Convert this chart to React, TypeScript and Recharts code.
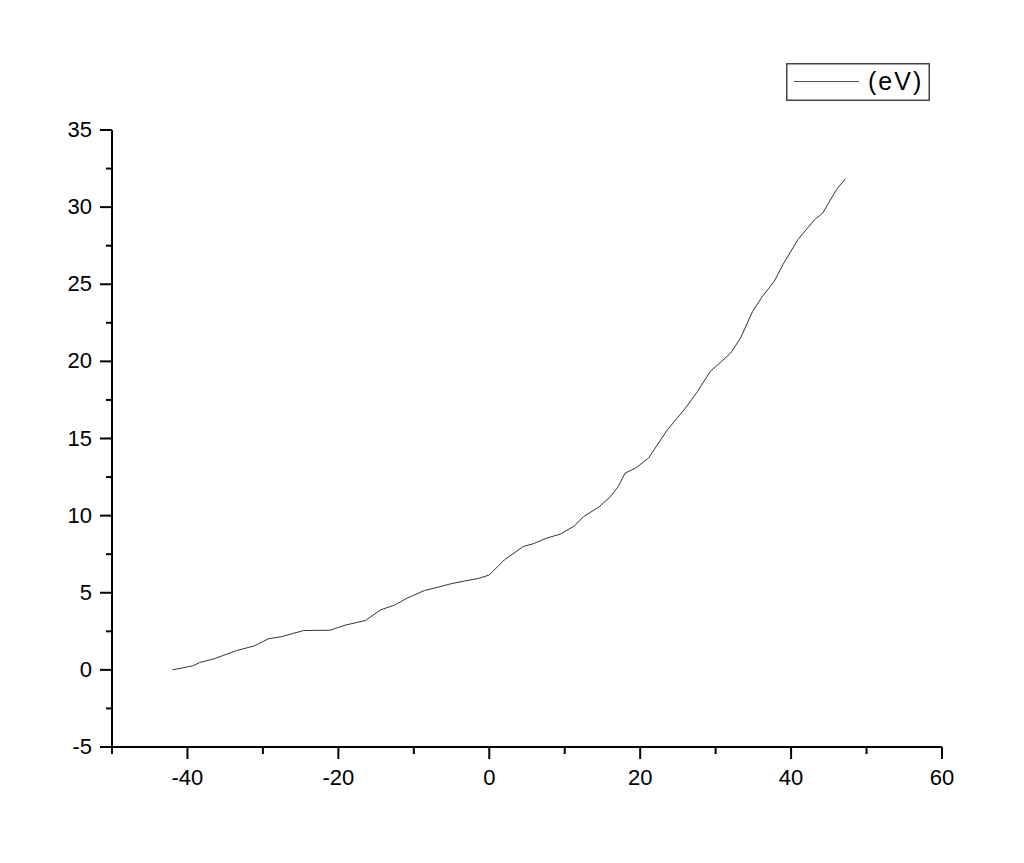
import { Legend, Line, LineChart, XAxis, YAxis } from 'recharts'

// x positions
const xValues = [
  -42, -39.3, -38.4, -36.4, -33.5, -31.1, -29.3, -27.5, -24.6, -21.1, -19.1, -16.4, -14.4, -12.6,
  -10.9, -8.6, -6.8, -5.1, -3.3, -1.5, 0, 2.0, 4.5, 5.8, 7.6, 9.4, 11.3, 12.5, 14.5, 16.0, 17.1,
  18.0, 19.4, 21.1, 23.6, 26.0, 27.6, 29.3, 32.0, 33.3, 34.9, 36.2, 37.8, 38.9, 40.9, 43.1, 44.2,
  46.0, 47.2,
]

// energy in eV
const evValues = [
  0, 0.26, 0.47, 0.73, 1.25, 1.56, 2.01, 2.16, 2.55, 2.57, 2.9, 3.2, 3.89, 4.19, 4.65, 5.14, 5.36,
  5.58, 5.76, 5.92, 6.15, 7.13, 8.0, 8.17, 8.54, 8.8, 9.34, 9.94, 10.55, 11.2, 11.89, 12.76, 13.08,
  13.73, 15.56, 16.97, 18.05, 19.35, 20.54, 21.51, 23.24, 24.21, 25.21, 26.26, 27.89, 29.18, 29.62,
  31.13, 31.84,
]

const xTicks = [-50, -40, -30, -20, -10, 0, 10, 20, 30, 40, 50, 60]
const yTicks = [-5, -2.5, 0, 2.5, 5, 7.5, 10, 12.5, 15, 17.5, 20, 22.5, 25, 27.5, 30, 32.5, 35]

const seriesName = '(eV)'

const data = xValues.map((x, i) => ({ x, ev: evValues[i] }))

const FONT = '"Liberation Sans", Arial, sans-serif'

function XTick({ x, y, payload }: any) {
  const major = payload.value % 20 === 0
  return (
    <g>
      <line x1={x} x2={x} y1={y} y2={y + (major ? 12 : 7)} stroke="#000" strokeWidth={2} />
      {major && (
        <text x={x} y={y + 38} textAnchor="middle" fontSize={22} fontFamily={FONT} fill="#000">
          {payload.value}
        </text>
      )}
    </g>
  )
}

function YTick({ x, y, payload }: any) {
  const major = payload.value % 5 === 0
  return (
    <g>
      <line x1={x} x2={x - (major ? 12 : 6)} y1={y} y2={y} stroke="#000" strokeWidth={2} />
      {major && (
        <text x={x - 20} y={y + 7} textAnchor="end" fontSize={22} fontFamily={FONT} fill="#000">
          {payload.value}
        </text>
      )}
    </g>
  )
}

function LegendBox() {
  return (
    <svg width={144} height={38} style={{ display: 'block' }}>
      <rect x={0.75} y={0.75} width={142.5} height={36.5} fill="#fff" stroke="#444" strokeWidth={1.5} />
      <line x1={8} x2={73} y1={18.5} y2={18.5} stroke="#555" strokeWidth={1} />
      <text x={82} y={26.5} fontSize={25} letterSpacing={2} fontFamily={FONT} fill="#000">
        {seriesName}
      </text>
    </svg>
  )
}

export default function App() {
  return (
    <div style={{ position: 'absolute', left: 0, top: 0, width: 1024, height: 863, background: '#fff' }}>
      <LineChart
        width={1024}
        height={863}
        data={data}
        margin={{ top: 130, right: 82, bottom: 76, left: 52 }}
      >
        <XAxis
          type="number"
          dataKey="x"
          domain={[-50, 60]}
          ticks={xTicks}
          interval={0}
          height={40}
          tickSize={0}
          tickMargin={0}
          tickLine={false}
          axisLine={{ stroke: '#000', strokeWidth: 2 }}
          tick={<XTick />}
          allowDataOverflow
        />
        <YAxis
          type="number"
          domain={[-5, 35]}
          ticks={yTicks}
          interval={0}
          width={60}
          tickSize={0}
          tickMargin={0}
          tickLine={false}
          axisLine={{ stroke: '#000', strokeWidth: 2 }}
          tick={<YTick />}
          allowDataOverflow
        />
        <Legend
          layout="horizontal"
          verticalAlign="middle"
          align="center"
          content={() => <LegendBox />}
          wrapperStyle={{ position: 'absolute', left: 786, top: 63, width: 144, height: 38 }}
        />
        <Line
          type="linear"
          dataKey="ev"
          name={seriesName}
          stroke="#333"
          strokeWidth={1}
          dot={false}
          activeDot={false}
          isAnimationActive={false}
        />
      </LineChart>
    </div>
  )
}
